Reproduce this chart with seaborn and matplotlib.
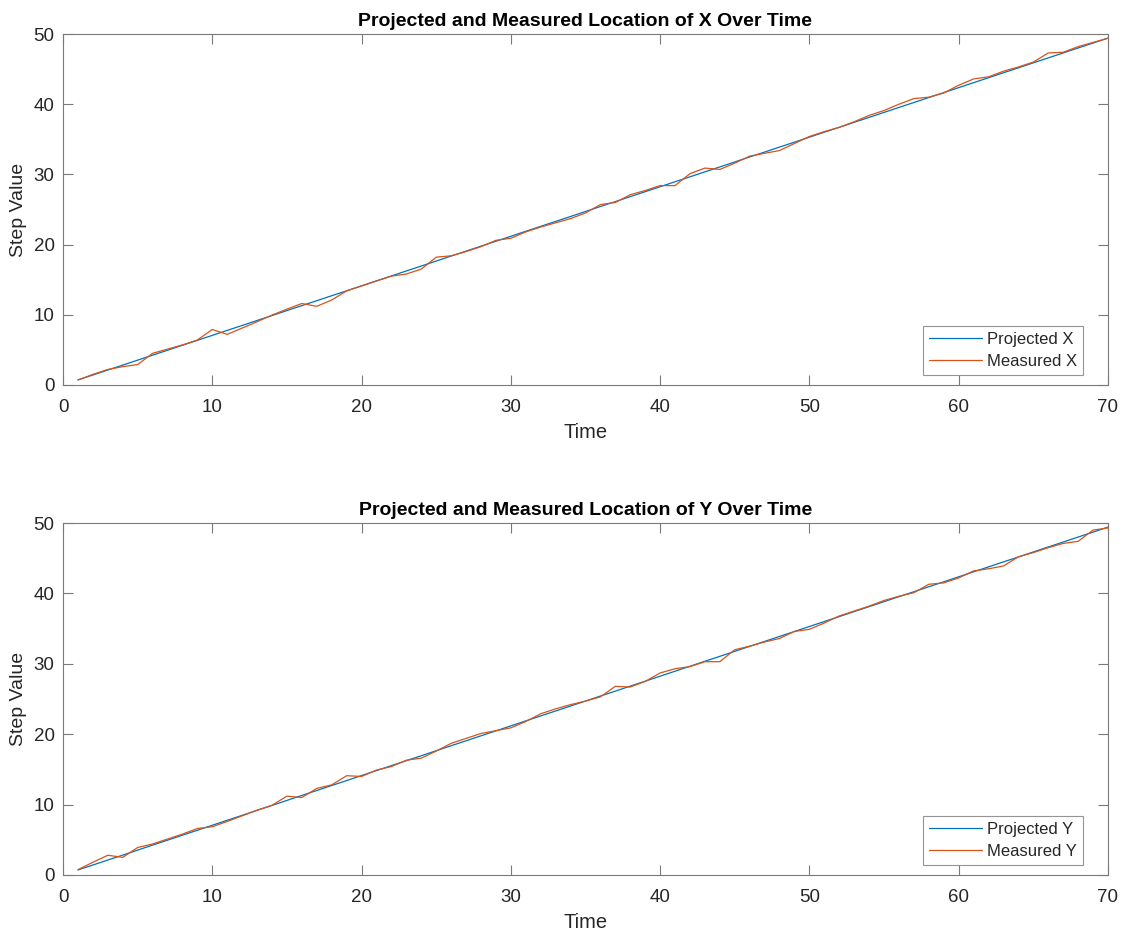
import numpy as np
import pandas as pd
import seaborn as sns
import matplotlib.pyplot as plt

time = list(range(1, 71))

projected_x = [0.71, 1.41, 2.12, 2.82, 3.53, 4.24, 4.94, 5.65, 6.35, 7.06,
               7.77, 8.47, 9.18, 9.88, 10.59, 11.30, 12.00, 12.71, 13.41, 14.12,
               14.83, 15.53, 16.24, 16.94, 17.65, 18.36, 19.06, 19.77, 20.47, 21.18,
               21.89, 22.59, 23.30, 24.00, 24.71, 25.42, 26.12, 26.83, 27.53, 28.24,
               28.95, 29.65, 30.36, 31.06, 31.77, 32.48, 33.18, 33.89, 34.59, 35.30,
               36.01, 36.71, 37.42, 38.12, 38.83, 39.54, 40.24, 40.95, 41.65, 42.36,
               43.07, 43.77, 44.48, 45.18, 45.89, 46.60, 47.30, 48.01, 48.71, 49.42]
measured_x = [0.7, 1.5, 2.2, 2.6, 2.9, 4.5, 5.1, 5.7, 6.4, 7.9,
              7.2, 8.1, 9.0, 9.95, 10.8, 11.6, 11.2, 12.1, 13.4, 14.1,
              14.8, 15.5, 15.8, 16.5, 18.2, 18.4, 19.0, 19.7, 20.6, 20.9,
              21.8, 22.5, 23.1, 23.7, 24.5, 25.7, 26.0, 27.1, 27.7, 28.4,
              28.4, 30.1, 30.9, 30.7, 31.6, 32.6, 33.0, 33.4, 34.4, 35.4,
              36.1, 36.7, 37.5, 38.4, 39.1, 40.0, 40.8, 41.0, 41.6, 42.7,
              43.6, 43.9, 44.7, 45.3, 46.0, 47.3, 47.4, 48.2, 48.8, 49.4]

projected_y = list(projected_x)
measured_y = [0.75, 1.8, 2.8, 2.5, 3.9, 4.4, 5.1, 5.8, 6.6, 6.85,
              7.6, 8.4, 9.2, 9.9, 11.2, 11.0, 12.3, 12.8, 14.1, 14.0,
              14.9, 15.4, 16.3, 16.6, 17.6, 18.7, 19.4, 20.1, 20.5, 20.9,
              21.8, 22.9, 23.6, 24.2, 24.7, 25.3, 26.8, 26.7, 27.5, 28.7,
              29.3, 29.6, 30.3, 30.3, 32.0, 32.5, 33.1, 33.6, 34.6, 34.9,
              35.8, 36.8, 37.5, 38.2, 39.0, 39.6, 40.1, 41.3, 41.5, 42.2,
              43.2, 43.5, 43.9, 45.2, 45.8, 46.5, 47.1, 47.4, 49.0, 49.3]

sns.set_style('white')
plt.rcParams['font.family'] = ['Liberation Sans', 'DejaVu Sans']

blue = '#0072BD'
orange = '#D95319'
axcol = '#7a7a7a'
txtcol = '#262626'

fig = plt.figure(figsize=(11.23, 9.32), dpi=100)
ax1 = fig.add_axes([0.0561, 0.587, 0.9305, 0.3765])
ax2 = fig.add_axes([0.0561, 0.0612, 0.9305, 0.3776])

panels = [(ax1, projected_x, measured_x, 'X'), (ax2, projected_y, measured_y, 'Y')]
for ax, proj, meas, name in panels:
    df = pd.DataFrame({'Time': time, 'Projected ' + name: proj, 'Measured ' + name: meas})
    long = df.melt(id_vars='Time', var_name='series', value_name='Step Value')
    sns.lineplot(data=long, x='Time', y='Step Value', hue='series',
                 palette=[blue, orange], linewidth=0.9, ax=ax)
    ax.set_xlim(0, 70)
    ax.set_ylim(0, 50)
    ax.set_xticks(np.arange(0, 71, 10))
    ax.set_yticks(np.arange(0, 51, 10))
    ax.set_title('Projected and Measured Location of ' + name + ' Over Time',
                 fontsize=14, fontweight='bold', color='black', pad=6)
    ax.set_xlabel('Time', fontsize=14.5, color=txtcol, labelpad=5)
    ax.set_ylabel('Step Value', fontsize=14, color=txtcol, labelpad=5)
    ax.tick_params(direction='in', length=7, width=0.8, colors=axcol,
                   labelcolor=txtcol, labelsize=13.5, top=True, right=True,
                   bottom=True, left=True)
    ax.tick_params(axis='x', pad=10)
    ax.tick_params(axis='y', pad=6)
    for s in ax.spines.values():
        s.set_visible(True)
        s.set_color(axcol)
        s.set_linewidth(0.8)
    leg = ax.legend(loc='lower right', bbox_to_anchor=(0.976, 0.028), borderaxespad=0,
                    fontsize=12, frameon=True, fancybox=False,
                    handlelength=3.2, handletextpad=0.3, borderpad=0.35,
                    labelspacing=0.45, title=None)
    leg.get_frame().set_edgecolor(axcol)
    leg.get_frame().set_linewidth(0.8)
    for t in leg.get_texts():
        t.set_color(txtcol)

fig.savefig('out.png', dpi=100)
